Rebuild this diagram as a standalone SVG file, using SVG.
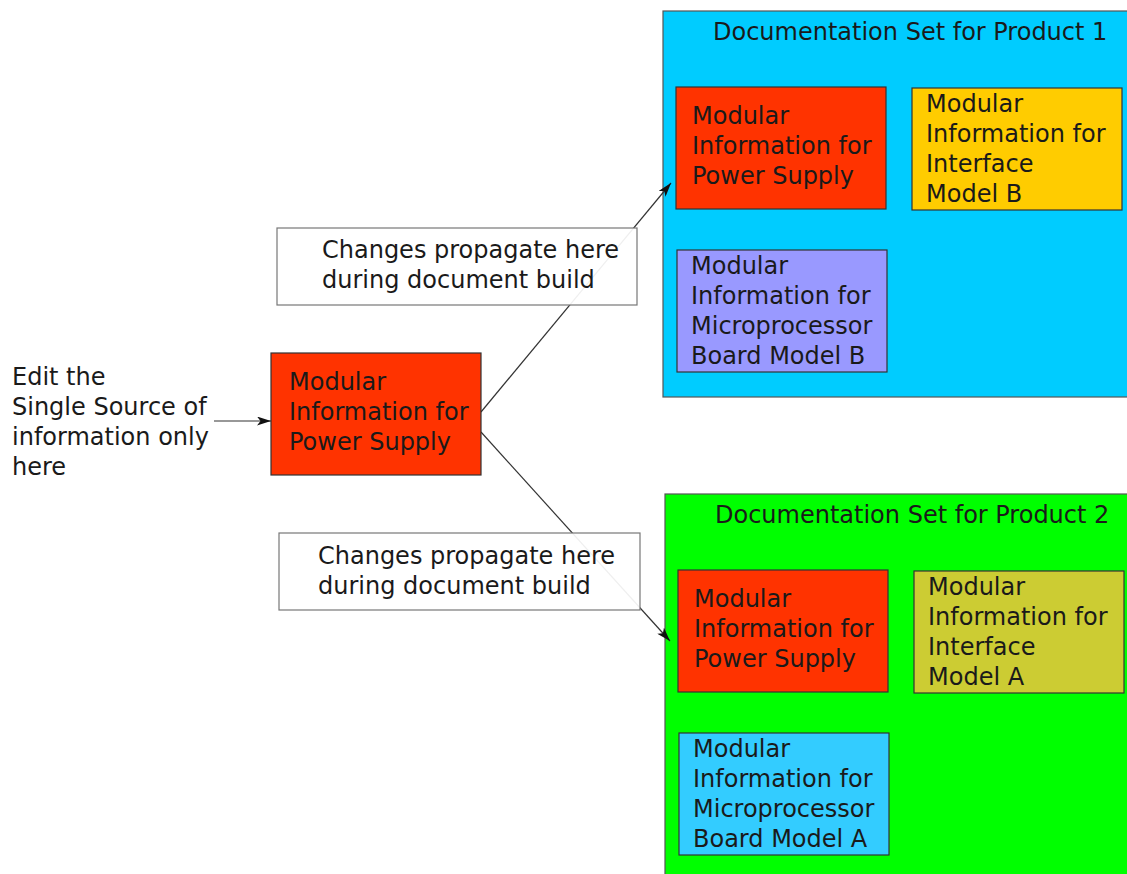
<svg xmlns="http://www.w3.org/2000/svg" width="1127" height="874" viewBox="0 0 1127 874">
  <defs>
    <marker id="arrow" viewBox="0 0 14 9" refX="14" refY="4.5" markerWidth="14" markerHeight="9" markerUnits="userSpaceOnUse" orient="auto">
      <path d="M0,0 L14,4.5 L0,9 L3.5,4.5 Z" fill="#111"/>
    </marker>
  </defs>
  <style>
    text { font-family: "DejaVu Sans", Verdana, sans-serif; font-size: 24px; fill: #1a1a1a; }
    .set { stroke: #555; stroke-width: 1.2; }
    .mod { stroke: #333; stroke-width: 1.2; }
    .label { fill: #ffffff; fill-opacity: 0.92; stroke: #777; stroke-width: 1.2; }
    .conn { stroke: #333; stroke-width: 1.2; fill: none; marker-end: url(#arrow); }
  </style>
  <rect width="1127" height="874" fill="#ffffff"/>

  <!-- Documentation set containers -->
  <g id="set1">
    <rect class="set" x="663" y="11" width="470" height="386" fill="#00ccff"/>
    <text x="713" y="40">Documentation Set for Product 1</text>
  </g>
  <g id="set2">
    <rect class="set" x="665" y="494" width="470" height="386" fill="#00ff00"/>
    <text x="715" y="523">Documentation Set for Product 2</text>
  </g>

  <!-- Connectors -->
  <g id="connectors">
    <line class="conn" x1="214" y1="421" x2="271" y2="421"/>
    <line class="conn" x1="481" y1="412" x2="671" y2="183"/>
    <line class="conn" x1="481" y1="432" x2="670" y2="641"/>
  </g>

  <!-- Source text -->
  <g id="source-note">
    <text x="12" y="385">Edit the</text>
    <text x="12" y="415">Single Source of</text>
    <text x="12" y="445">information only</text>
    <text x="12" y="475">here</text>
  </g>

  <!-- Single source module -->
  <g id="source-power">
    <rect class="mod" x="271" y="353" width="210" height="122" fill="#ff3300"/>
    <text x="289" y="390">Modular</text>
    <text x="289" y="420">Information for</text>
    <text x="289" y="450">Power Supply</text>
  </g>

  <!-- Propagation labels -->
  <g id="label1">
    <rect class="label" x="277" y="228" width="360" height="77"/>
    <text x="322" y="258">Changes propagate here</text>
    <text x="322" y="288">during document build</text>
  </g>
  <g id="label2">
    <rect class="label" x="279" y="533" width="361" height="77"/>
    <text x="318" y="564">Changes propagate here</text>
    <text x="318" y="594">during document build</text>
  </g>

  <!-- Product 1 modules -->
  <g id="p1-power">
    <rect class="mod" x="676" y="87" width="210" height="122" fill="#ff3300"/>
    <text x="692" y="124">Modular</text>
    <text x="692" y="154">Information for</text>
    <text x="692" y="184">Power Supply</text>
  </g>
  <g id="p1-interface">
    <rect class="mod" x="912" y="88" width="210" height="122" fill="#ffcc00"/>
    <text x="926" y="112">Modular</text>
    <text x="926" y="142">Information for</text>
    <text x="926" y="172">Interface</text>
    <text x="926" y="202">Model B</text>
  </g>
  <g id="p1-board">
    <rect class="mod" x="677" y="250" width="210" height="122" fill="#9999ff"/>
    <text x="691" y="274">Modular</text>
    <text x="691" y="304">Information for</text>
    <text x="691" y="334">Microprocessor</text>
    <text x="691" y="364">Board Model B</text>
  </g>

  <!-- Product 2 modules -->
  <g id="p2-power">
    <rect class="mod" x="678" y="570" width="210" height="122" fill="#ff3300"/>
    <text x="694" y="607">Modular</text>
    <text x="694" y="637">Information for</text>
    <text x="694" y="667">Power Supply</text>
  </g>
  <g id="p2-interface">
    <rect class="mod" x="914" y="571" width="210" height="122" fill="#cccc33"/>
    <text x="928" y="595">Modular</text>
    <text x="928" y="625">Information for</text>
    <text x="928" y="655">Interface</text>
    <text x="928" y="685">Model A</text>
  </g>
  <g id="p2-board">
    <rect class="mod" x="679" y="733" width="210" height="122" fill="#33ccff"/>
    <text x="693" y="757">Modular</text>
    <text x="693" y="787">Information for</text>
    <text x="693" y="817">Microprocessor</text>
    <text x="693" y="847">Board Model A</text>
  </g>
</svg>
